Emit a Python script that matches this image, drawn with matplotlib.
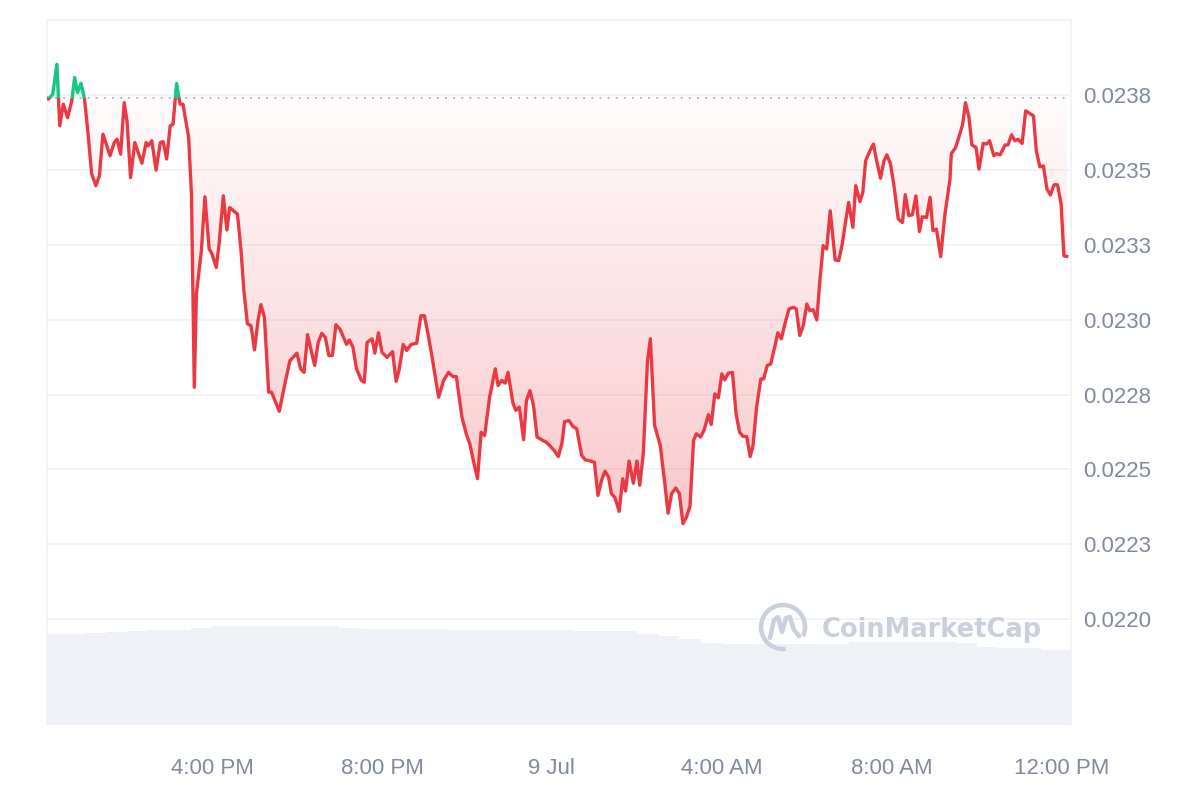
import numpy as np
import matplotlib
matplotlib.use("Agg")
import matplotlib.pyplot as plt
from matplotlib.patches import Polygon, Rectangle, Arc
from matplotlib.lines import Line2D

# minutes since 12:00 PM on 8 Jul, and price (USD)
times = [7, 9, 15, 21, 25, 30, 36, 42, 46, 50, 55, 60, 65, 70, 76, 81, 86, 96, 102, 106,
         111, 116, 120, 125, 131, 141, 147, 150, 155, 161, 167, 171, 176, 181, 185, 190, 195,
         199, 207, 211, 215, 218, 225, 230, 236, 240, 246,
         250, 256, 261, 265, 276, 281, 285, 290, 295, 300, 305, 309, 314, 320, 324, 335, 343,
         350, 360, 365, 370, 375, 380, 385, 390, 395, 400, 405, 410, 415, 421, 430, 434, 439,
         444, 451, 455, 459, 466, 470, 475, 480, 487, 495, 500, 504, 510, 515, 521, 529, 535,
         540, 545, 550, 560, 567, 574, 580, 585, 593, 599, 604, 609, 615, 620, 625, 632, 640,
         644, 649, 654, 658, 665, 669, 674, 680, 684, 689, 694, 699, 707, 712, 718, 724, 729,
         734, 738, 744, 750, 755, 762, 767, 774, 780, 785, 790, 795, 800, 804, 809, 815, 820,
         824, 829, 835, 840, 844, 849, 855, 859, 865, 873, 880, 884, 889, 895, 900, 905, 910,
         915, 920, 924, 930, 935, 941, 945, 950, 955, 960, 964, 969,
         975, 980, 985, 990, 995, 1000, 1004, 1009, 1015, 1019, 1024, 1029, 1035, 1039, 1044,
         1049, 1055, 1061, 1065, 1070, 1075, 1080, 1084, 1089, 1094, 1098, 1103, 1108, 1113,
         1120, 1125, 1130, 1135, 1139, 1145, 1149, 1155, 1159, 1163, 1169, 1174, 1178, 1184,
         1189, 1193, 1198, 1203,
         1209, 1215, 1219, 1224, 1229, 1234, 1239, 1243, 1249, 1254, 1258, 1263, 1269, 1275,
         1282, 1284, 1290, 1296, 1300, 1304, 1309, 1313, 1319, 1323, 1329, 1334, 1338, 1344,
         1348, 1353, 1360, 1364, 1369, 1374, 1378, 1384, 1389, 1394, 1400, 1404, 1409, 1414,
         1419, 1424, 1429, 1434, 1439, 1443, 1447]

prices = [0.023740, 0.023736, 0.023752, 0.023852, 0.023647, 0.023719, 0.023674, 0.023730,
          0.023808, 0.023758, 0.023789, 0.023736, 0.023620, 0.023487, 0.023447, 0.023480,
          0.023619, 0.023547, 0.023591, 0.023602, 0.023552, 0.023724, 0.023663, 0.023474,
          0.023591, 0.023522, 0.023591, 0.023580, 0.023597, 0.023499, 0.023591, 0.023594,
          0.023536, 0.023647, 0.023652, 0.023788, 0.023719, 0.023719, 0.023608, 0.023419,
          0.022774, 0.023086, 0.023230, 0.023410, 0.023236, 0.023219, 0.023174,
          0.023252, 0.023413, 0.023299, 0.023374, 0.023352, 0.023230, 0.023097, 0.022986,
          0.022980, 0.022899, 0.022997, 0.023050, 0.023008, 0.022758, 0.022758, 0.022694,
          0.022786, 0.022863, 0.022888, 0.022836, 0.022824, 0.022950, 0.022897, 0.022847,
          0.022924, 0.022954, 0.022941, 0.022880, 0.022880, 0.022983, 0.022967, 0.022917,
          0.022932, 0.022908, 0.022836, 0.022797, 0.022791, 0.022924, 0.022936, 0.022888,
          0.022956, 0.022891, 0.022874, 0.022893, 0.022794, 0.022830, 0.022917, 0.022897,
          0.022917, 0.022921, 0.023013, 0.023013, 0.022952, 0.022886, 0.022741, 0.022797,
          0.022824, 0.022810, 0.022810, 0.022674, 0.022619, 0.022586, 0.022530, 0.022469,
          0.022624, 0.022613, 0.022741, 0.022836, 0.022780, 0.022797, 0.022788, 0.022824,
          0.022721, 0.022697, 0.022708, 0.022599, 0.022730, 0.022763, 0.022713, 0.022608,
          0.022597, 0.022591, 0.022577, 0.022561, 0.022543,
          0.022586, 0.022660, 0.022663, 0.022643, 0.022636, 0.022547, 0.022532, 0.022528,
          0.022524, 0.022413, 0.022463, 0.022494, 0.022474, 0.022419, 0.022406, 0.022360,
          0.022469, 0.022428, 0.022528, 0.022454, 0.022528, 0.022447, 0.022552, 0.022863,
          0.022936, 0.022647, 0.022580, 0.022441, 0.022354, 0.022419, 0.022438, 0.022419,
          0.022319, 0.022341, 0.022377, 0.022597, 0.022619, 0.022608, 0.022632, 0.022683,
          0.022650, 0.022752, 0.022739, 0.022819, 0.022799, 0.022821,
          0.022824, 0.022686, 0.022624, 0.022610, 0.022610, 0.022543, 0.022580, 0.022708,
          0.022802, 0.022802, 0.022847, 0.022852, 0.022913, 0.022956, 0.022936, 0.022986,
          0.023036, 0.023041, 0.023036, 0.022947, 0.022980, 0.023052, 0.023030, 0.023033,
          0.022999, 0.023119, 0.023247, 0.023236, 0.023363, 0.023199, 0.023197, 0.023252,
          0.023332, 0.023391, 0.023308, 0.023447, 0.023394, 0.023424, 0.023530, 0.023563,
          0.023586, 0.023536, 0.023472, 0.023530, 0.023550, 0.023521, 0.023447,
          0.023336, 0.023324, 0.023417, 0.023347, 0.023350, 0.023413, 0.023294, 0.023343,
          0.023341, 0.023408, 0.023297, 0.023302, 0.023210, 0.023352, 0.023466, 0.023554,
          0.023574, 0.023619, 0.023652, 0.023724, 0.023674, 0.023583, 0.023574, 0.023502,
          0.023588, 0.023586, 0.023597, 0.023547, 0.023554, 0.023550, 0.023583, 0.023583,
          0.023617, 0.023597, 0.023602, 0.023588, 0.023697, 0.023689, 0.023680, 0.023563,
          0.023510, 0.023513, 0.023436, 0.023416, 0.023450, 0.023450, 0.023386, 0.023213,
          0.023211]

open_price = 0.023740

# volume, one bar per half hour (arbitrary units)
vol_times = [30 * i for i in range(49)]
volumes = [9.1, 9.1, 9.2, 9.3, 9.4, 9.5, 9.5, 9.7, 9.9, 9.9, 9.9, 9.9, 9.9, 9.9, 9.7, 9.6,
           9.6, 9.6, 9.6, 9.5, 9.5, 9.5, 9.5, 9.5, 9.5, 9.4, 9.4, 9.4, 9.1, 8.9, 8.6, 8.2,
           8.1, 8.1, 8.1, 8.1, 8.1, 8.1, 8.3, 8.3, 8.3, 8.3, 8.3, 8.2, 7.8, 7.7, 7.7, 7.5, 7.5]

y_ticks = [0.0220, 0.02225, 0.0225, 0.02275, 0.0230, 0.02325, 0.0235, 0.02375]
y_labels = ["0.0220", "0.0223", "0.0225", "0.0228", "0.0230", "0.0233", "0.0235", "0.0238"]
x_ticks = [240, 480, 720, 960, 1200, 1440]
x_labels = ["4:00 PM", "8:00 PM", "9 Jul", "4:00 AM", "8:00 AM", "12:00 PM"]

RED = "#ea3943"
GREEN = "#16c784"
GRID = "#eff2f5"
LABEL = "#808a9d"

plt.rcParams["font.family"] = ["Liberation Sans", "DejaVu Sans"]

fig = plt.figure(figsize=(12, 8), dpi=100)
pos = [47 / 1200, 75 / 800, 1024 / 1200, 705 / 800]
xlim = (7, 1453)
ylim = (0.021647, 0.0240)

# volume axes behind the price axes
vax = fig.add_axes(pos, zorder=1)
vax.bar(vol_times, volumes, width=30, align="edge", color="#eef1f6", linewidth=0)
vax.set_xlim(xlim)
vax.set_ylim(0, 70.5)
vax.axis("off")

ax = fig.add_axes(pos, zorder=2)
ax.patch.set_visible(False)
t = np.array(times)
p = np.array(prices)

ax.set_xlim(xlim)
ax.set_ylim(ylim)

# gradient fill under the opening price, clipped to the area between line and baseline
below = np.minimum(p, open_price)
poly_red = Polygon(np.column_stack([np.r_[t[0], t, t[-1]], np.r_[open_price, below, open_price]]),
                   closed=True, facecolor="none", edgecolor="none")
ax.add_patch(poly_red)
grad = np.zeros((256, 1, 4))
rgb = matplotlib.colors.to_rgb(RED)
grad[:, 0, 0:3] = rgb
grad[:, 0, 3] = np.linspace(0.28, 0.02, 256)
img = ax.imshow(grad, extent=[xlim[0], xlim[1], 0.02230, open_price], origin="lower",
                aspect="auto", interpolation="bilinear", zorder=1)
img.set_clip_path(poly_red)

above = np.maximum(p, open_price)
ax.fill_between(t, open_price, above, color=GREEN, alpha=0.12, linewidth=0, zorder=1)

# dotted opening price line
ax.axhline(open_price, color="#a6b0c3", lw=1.3, ls=(0, (1, 3.5)), zorder=2)

# line: green above the open, red below
red_line, = ax.plot(t, p, color=RED, lw=2.4, solid_joinstyle="round", zorder=3)
green_line, = ax.plot(t, p, color=GREEN, lw=2.4, solid_joinstyle="round", zorder=3)
clip_low = Rectangle((xlim[0], ylim[0]), xlim[1] - xlim[0], open_price - ylim[0],
                     transform=ax.transData)
clip_high = Rectangle((xlim[0], open_price), xlim[1] - xlim[0], ylim[1] - open_price,
                      transform=ax.transData)
red_line.set_clip_path(clip_low)
green_line.set_clip_path(clip_high)

ax.set_xlim(xlim)
ax.set_ylim(ylim)

ax.set_yticks(y_ticks)
ax.set_yticklabels(y_labels)
ax.yaxis.tick_right()
ax.set_xticks(x_ticks)
ax.set_xticklabels(x_labels)
ax.tick_params(axis="y", length=0, pad=9, labelsize=16, labelcolor=LABEL)
ax.tick_params(axis="x", length=0, pad=24, labelsize=16, labelcolor=LABEL)
ax.yaxis.grid(True, color=GRID, lw=1.2, zorder=0)
ax.set_axisbelow(True)
for side in ["left", "right", "top"]:
    ax.spines[side].set_color(GRID)
    ax.spines[side].set_linewidth(1.2)
ax.spines["bottom"].set_visible(False)

# watermark
wm = "#c9d0dc"
cx, cy = 783 / 1200, 1 - 627 / 800
fig.add_artist(Arc((cx, cy), 44 / 1200, 44 / 800, theta1=-35, theta2=275,
                   transform=fig.transFigure, color=wm, lw=3.2, zorder=5))
mx = [770, 774, 778, 782, 786, 790, 794, 799]
my = [638, 620, 617, 632, 618, 617, 630, 636]
fig.add_artist(Line2D([v / 1200 for v in mx], [1 - v / 800 for v in my],
                      transform=fig.transFigure, color=wm, lw=3.2,
                      solid_joinstyle="round", solid_capstyle="round", zorder=5))
fig.text(822 / 1200, 1 - 630 / 800, "CoinMarketCap", color=wm, fontsize=18.5,
         fontweight="bold", family=["DejaVu Sans"], va="center", ha="left", zorder=5)

fig.savefig("out.png", dpi=100)
